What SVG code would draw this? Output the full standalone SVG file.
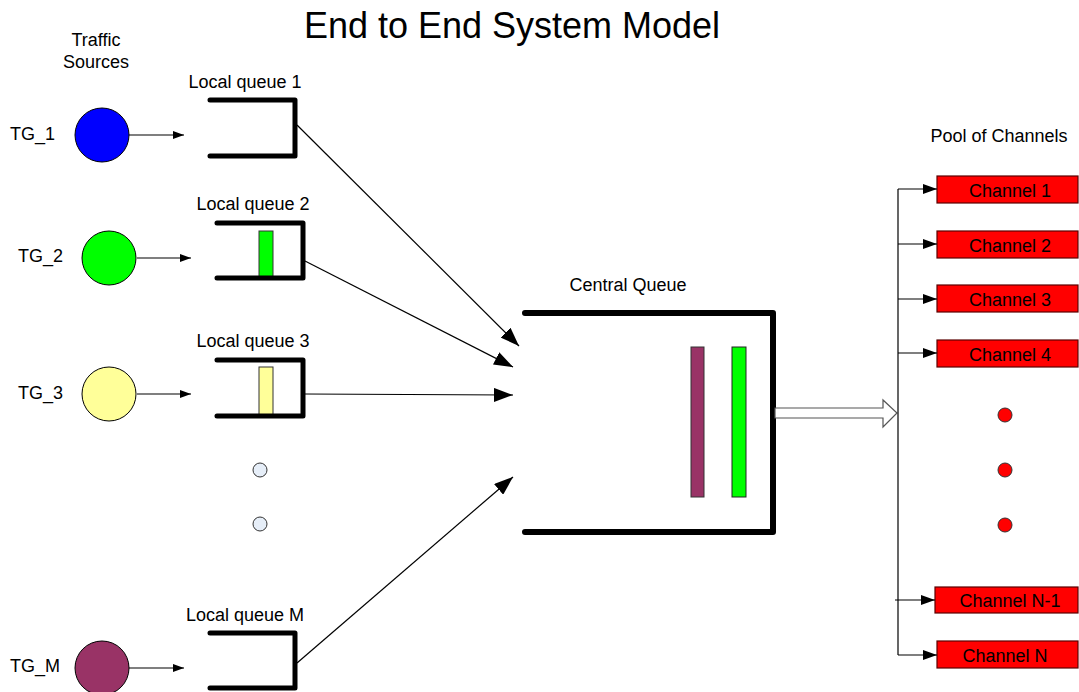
<svg xmlns="http://www.w3.org/2000/svg" width="1079" height="692" viewBox="0 0 1079 692">
<style>
text{font-family:"Liberation Sans",Arial,sans-serif;fill:#000}
.lbl{font-size:18px}
.mid{text-anchor:middle}
.title{font-size:36px;text-anchor:middle}
.src{stroke:#000;stroke-width:1}
.q{fill:none;stroke:#000;stroke-width:5;stroke-linejoin:round;stroke-linecap:round}
.cq{fill:none;stroke:#000;stroke-width:6;stroke-linejoin:round;stroke-linecap:round}
.c{stroke:#000;stroke-width:1.2;fill:none}
.ch{fill:#ff0000;stroke:#5a0000;stroke-width:1.2}
.dot{fill:#e6eef8;stroke:#333;stroke-width:1}
.rdot{fill:#ff0000;stroke:#333;stroke-width:1}
</style>
<defs>
<marker id="sa" markerUnits="userSpaceOnUse" markerWidth="12" markerHeight="10" refX="11" refY="5" orient="auto"><path d="M0,1 L11,5 L0,9 Z" fill="#000"/></marker>
<marker id="ba" markerUnits="userSpaceOnUse" markerWidth="20" markerHeight="14" refX="19" refY="7" orient="auto"><path d="M0,0 L19,7 L0,14 Z" fill="#000"/></marker>
<marker id="ma" markerUnits="userSpaceOnUse" markerWidth="15" markerHeight="12" refX="14" refY="6" orient="auto"><path d="M0,1 L14,6 L0,11 Z" fill="#000"/></marker>
</defs>
<rect width="1079" height="692" fill="#fff"/>
<text class="title" x="512" y="38">End to End System Model</text>
<text class="lbl mid" x="96" y="46">Traffic</text>
<text class="lbl mid" x="96" y="68">Sources</text>
<text class="lbl mid" x="628" y="291">Central Queue</text>
<text class="lbl mid" x="999" y="142">Pool of Channels</text>

<g id="tg1"><circle class="src" cx="102" cy="135" r="27" fill="#0000ff"/><text class="lbl" x="10" y="140">TG_1</text></g>
<g id="tg2"><circle class="src" cx="109" cy="258" r="27" fill="#00ff00"/><text class="lbl" x="18" y="262">TG_2</text></g>
<g id="tg3"><circle class="src" cx="109" cy="394" r="27" fill="#ffff99"/><text class="lbl" x="18" y="399">TG_3</text></g>
<g id="tgM"><circle class="src" cx="102" cy="668" r="27" fill="#993366"/><text class="lbl" x="10" y="672">TG_M</text></g>

<g id="lq1"><text class="lbl mid" x="245" y="88">Local queue 1</text><path class="q" d="M210,100 H295 V156 H210"/></g>
<g id="lq2"><text class="lbl mid" x="253" y="210">Local queue 2</text><rect x="259" y="231" width="14" height="47" fill="#00ff00" stroke="#333" stroke-width="1"/><path class="q" d="M217,223 H303 V278 H217"/></g>
<g id="lq3"><text class="lbl mid" x="253" y="347">Local queue 3</text><rect x="259" y="367" width="14" height="49" fill="#ffff99" stroke="#333" stroke-width="1"/><path class="q" d="M217,360 H303 V416 H217"/></g>
<g id="lqM"><text class="lbl mid" x="245" y="621">Local queue M</text><path class="q" d="M210,633 H295 V688 H210"/></g>

<g id="dots"><circle class="dot" cx="260" cy="470" r="7"/><circle class="dot" cx="260" cy="524" r="7"/></g>

<g id="cq"><rect x="691" y="347" width="13" height="150" fill="#993366" stroke="#333" stroke-width="1"/><rect x="732" y="347" width="14" height="150" fill="#00ff00" stroke="#222" stroke-width="1"/><path class="cq" d="M525,313 H773 V532 H525"/></g>

<g id="channels">
<g id="ch1"><rect class="ch" x="937" y="176" width="141" height="27"/><text class="lbl mid" x="1010" y="197">Channel 1</text></g>
<g id="ch2"><rect class="ch" x="937" y="231" width="141" height="27"/><text class="lbl mid" x="1010" y="252">Channel 2</text></g>
<g id="ch3"><rect class="ch" x="937" y="285" width="141" height="27"/><text class="lbl mid" x="1010" y="306">Channel 3</text></g>
<g id="ch4"><rect class="ch" x="937" y="340" width="141" height="27"/><text class="lbl mid" x="1010" y="361">Channel 4</text></g>
<g id="chN1"><rect class="ch" x="935" y="587" width="143" height="26"/><text class="lbl mid" x="1010" y="607">Channel N-1</text></g>
<g id="chN"><rect class="ch" x="937" y="641" width="141" height="27"/><text class="lbl mid" x="1005" y="662">Channel N</text></g>
<g id="rdots"><circle class="rdot" cx="1005" cy="415" r="7"/><circle class="rdot" cx="1005" cy="470" r="7"/><circle class="rdot" cx="1005" cy="525" r="7"/></g>
</g>

<g id="connectors">
<line class="c" x1="129" y1="135" x2="184" y2="135" marker-end="url(#sa)"/>
<line class="c" x1="137" y1="258" x2="191" y2="258" marker-end="url(#sa)"/>
<line class="c" x1="137" y1="394" x2="191" y2="394" marker-end="url(#sa)"/>
<line class="c" x1="129" y1="668" x2="184" y2="668" marker-end="url(#sa)"/>
<line class="c" x1="297" y1="125" x2="519" y2="346" marker-end="url(#ba)"/>
<line class="c" x1="305" y1="261" x2="513" y2="367" marker-end="url(#ba)"/>
<line class="c" x1="305" y1="394" x2="513" y2="395" marker-end="url(#ba)" stroke="#444"/>
<line class="c" x1="297" y1="663" x2="513" y2="477" marker-end="url(#ba)"/>
<polygon points="775,408 883,408 883,400 897,413 883,427 883,418 775,418" fill="#fff" stroke="#555" stroke-width="1.2"/>
<line class="c" x1="898" y1="189" x2="898" y2="655"/>
<line class="c" x1="898" y1="189" x2="937" y2="189" marker-end="url(#ma)"/>
<line class="c" x1="898" y1="244" x2="937" y2="244" marker-end="url(#ma)"/>
<line class="c" x1="898" y1="299" x2="937" y2="299" marker-end="url(#ma)"/>
<line class="c" x1="898" y1="353" x2="937" y2="353" marker-end="url(#ma)"/>
<line class="c" x1="895" y1="600" x2="935" y2="600" marker-end="url(#ma)"/>
<line class="c" x1="898" y1="655" x2="937" y2="655" marker-end="url(#ma)"/>
</g>
</svg>
